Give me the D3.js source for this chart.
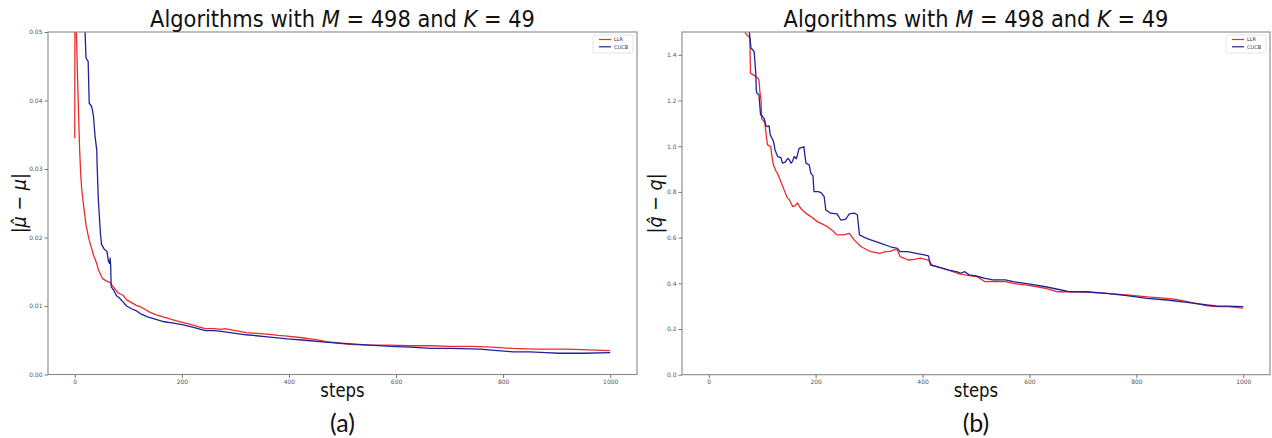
<!DOCTYPE html>
<html>
<head>
<meta charset="utf-8">
<script src="https://cdn.jsdelivr.net/npm/d3@7"></script>
<style>
  html, body { margin: 0; padding: 0; background: #fff; }
  svg { display: block; }
  .tick text { font-family: "DejaVu Sans", sans-serif; fill: #555; }
  .tick line { stroke: #777; }
</style>
</head>
<body>
<svg id="chart" width="1272" height="438"></svg>
<script>
// ---- data -------------------------------------------------------------
// Panel (a): |mu_hat - mu| per step
const muStepsLLR = [0, 1, 2, 3, 6, 9, 11, 13, 16, 21, 25, 29, 32, 35, 41, 44, 50, 52, 58, 66, 72, 81, 90, 97, 106, 115, 122, 129, 140, 152, 165, 182, 197, 213, 230, 244, 260, 274, 280, 300, 320, 340, 359, 380, 397, 420, 451, 470, 490, 512, 550, 588, 625, 665, 700, 742, 780, 818, 860, 918, 960, 1000];
const muLLR = [0.0345, 0.090, 0.066, 0.050, 0.041, 0.033, 0.0294, 0.027, 0.0250, 0.0218, 0.0203, 0.0190, 0.0183, 0.0174, 0.0162, 0.0153, 0.0143, 0.0140, 0.0137, 0.0134, 0.0128, 0.0119, 0.0116, 0.0109, 0.0105, 0.0101, 0.0099, 0.0096, 0.0091, 0.0087, 0.0084, 0.0080, 0.0077, 0.0074, 0.0070, 0.0067, 0.0067, 0.0066, 0.0067, 0.0064, 0.0061, 0.0060, 0.0059, 0.0057, 0.0056, 0.0054, 0.0051, 0.0048, 0.0046, 0.0044, 0.0043, 0.0043, 0.0042, 0.0042, 0.0041, 0.0041, 0.0040, 0.0038, 0.0037, 0.0037, 0.0036, 0.0035];

const muStepsCUCB = [0, 8, 15, 19, 21, 25, 27, 31, 33, 35, 38, 41, 42, 44, 46, 48, 50, 55, 60, 63, 65, 66, 67, 68, 72, 78, 83, 90, 97, 106, 115, 122, 136, 150, 167, 185, 205, 225, 244, 260, 274, 300, 320, 360, 397, 430, 473, 510, 550, 590, 627, 665, 703, 757, 790, 818, 850, 880, 903, 950, 1000];
const muCUCB = [0.12, 0.085, 0.060, 0.0505, 0.0462, 0.0457, 0.0396, 0.0392, 0.0386, 0.0376, 0.0347, 0.0328, 0.0300, 0.0255, 0.0230, 0.0205, 0.0190, 0.0183, 0.0180, 0.0165, 0.0162, 0.0170, 0.0160, 0.0128, 0.0124, 0.0115, 0.0112, 0.0106, 0.0100, 0.0096, 0.0093, 0.0089, 0.0084, 0.0081, 0.0077, 0.0075, 0.0072, 0.0068, 0.0064, 0.0064, 0.0063, 0.0060, 0.0058, 0.0055, 0.0052, 0.0050, 0.0047, 0.0045, 0.0043, 0.0041, 0.0040, 0.0038, 0.0038, 0.0037, 0.0035, 0.0033, 0.0033, 0.0032, 0.0031, 0.0031, 0.0032];

// Panel (b): |q_hat - q| per step
const qStepsLLR = [0, 40, 68, 70, 75, 77, 78, 85, 88, 91, 94, 96, 98, 99, 103, 105, 108, 110, 116, 118, 121, 126, 129, 135, 141, 147, 151, 157, 162, 166, 170, 175, 183, 191, 203, 212, 222, 232, 240, 252, 263, 272, 285, 297, 303, 320, 331, 340, 346, 353, 358, 373, 385, 396, 411, 418, 432, 449, 465, 479, 502, 517, 535, 555, 575, 592, 612, 630, 653, 672, 691, 715, 744, 782, 820, 857, 878, 895, 915, 933, 952, 971, 1000];
const qLLR = [2.2, 1.7, 1.50, 1.49, 1.48, 1.47, 1.32, 1.31, 1.305, 1.30, 1.29, 1.23, 1.20, 1.12, 1.11, 1.10, 1.04, 1.006, 0.998, 0.96, 0.918, 0.890, 0.880, 0.845, 0.809, 0.775, 0.765, 0.736, 0.740, 0.752, 0.735, 0.721, 0.705, 0.692, 0.670, 0.660, 0.648, 0.630, 0.612, 0.612, 0.619, 0.590, 0.560, 0.546, 0.539, 0.531, 0.539, 0.540, 0.546, 0.546, 0.517, 0.502, 0.505, 0.510, 0.502, 0.480, 0.470, 0.458, 0.444, 0.437, 0.429, 0.407, 0.408, 0.407, 0.398, 0.393, 0.386, 0.378, 0.363, 0.363, 0.363, 0.360, 0.356, 0.349, 0.341, 0.334, 0.328, 0.320, 0.310, 0.301, 0.298, 0.298, 0.291];

const qStepsCUCB = [0, 50, 76, 79, 83, 85, 88, 89, 90, 94, 97, 99, 104, 107, 109, 113, 115, 120, 122, 124, 129, 135, 138, 143, 148, 151, 154, 157, 160, 164, 169, 175, 178, 180, 182, 188, 191, 195, 197, 205, 210, 216, 219, 228, 240, 247, 256, 263, 272, 278, 282, 292, 303, 322, 340, 353, 358, 372, 388, 403, 411, 415, 428, 449, 465, 471, 479, 487, 500, 517, 532, 555, 570, 592, 610, 630, 653, 676, 706, 744, 782, 820, 857, 895, 933, 952, 971, 1000];
const qCUCB = [2.5, 1.8, 1.50, 1.43, 1.42, 1.414, 1.32, 1.245, 1.232, 1.225, 1.137, 1.135, 1.12, 1.09, 1.086, 1.089, 1.05, 1.027, 1.013, 0.984, 0.955, 0.950, 0.926, 0.930, 0.947, 0.940, 0.926, 0.935, 0.955, 0.945, 0.991, 0.995, 0.998, 0.960, 0.926, 0.918, 0.882, 0.870, 0.801, 0.801, 0.797, 0.779, 0.721, 0.707, 0.704, 0.677, 0.680, 0.704, 0.707, 0.700, 0.612, 0.600, 0.590, 0.575, 0.560, 0.553, 0.539, 0.539, 0.531, 0.524, 0.520, 0.480, 0.472, 0.458, 0.450, 0.444, 0.451, 0.437, 0.432, 0.422, 0.415, 0.415, 0.407, 0.400, 0.393, 0.385, 0.374, 0.363, 0.363, 0.356, 0.346, 0.334, 0.327, 0.317, 0.305, 0.300, 0.300, 0.298];

const xTicks = [0, 200, 400, 600, 800, 1000];
const muTicks = [0.00, 0.01, 0.02, 0.03, 0.04, 0.05];
const qTicks = [0.0, 0.2, 0.4, 0.6, 0.8, 1.0, 1.2, 1.4];
const seriesNames = ["LLR", "CUCB"];
const seriesColors = ["#ee2a2a", "#20209c"];

// ---- drawing ----------------------------------------------------------
const svg = d3.select("#chart");
svg.append("rect").attr("width", 1272).attr("height", 438).attr("fill", "#fff");

const zip = (xs, ys) => xs.map((s, i) => [s, ys[i]]);

function stretchedText(g, x, y, sy) {
  return g.append("text").attr("transform", `translate(${x},${y}) scale(1,${sy})`);
}

function panel(cfg) {
  const { left, right, top, bottom, yMax, yTicks, yFmt, series, label, yLabel, id } = cfg;
  const x = d3.scaleLinear().domain([-50, 1050]).range([left, right]);
  const y = d3.scaleLinear().domain([0, yMax]).range([bottom, top]);
  const g = svg.append("g");

  g.append("clipPath").attr("id", id)
    .append("rect").attr("x", left).attr("y", top)
    .attr("width", right - left).attr("height", bottom - top);

  const line = d3.line().x(d => x(d[0])).y(d => y(d[1]));
  series.forEach((s, i) => {
    g.append("path")
      .attr("clip-path", `url(#${id})`)
      .attr("d", line(s))
      .attr("fill", "none")
      .attr("stroke", seriesColors[i])
      .attr("stroke-width", 1.3)
      .attr("stroke-linejoin", "round");
  });

  // axes
  const xAxis = g.append("g").attr("transform", `translate(0,${bottom})`)
    .call(d3.axisBottom(x).tickValues(xTicks).tickFormat(d3.format("d")).tickSize(3.5).tickPadding(2));
  const yAxis = g.append("g").attr("transform", `translate(${left},0)`)
    .call(d3.axisLeft(y).tickValues(yTicks).tickFormat(d3.format(yFmt)).tickSize(3.5).tickPadding(2));
  [xAxis, yAxis].forEach(a => {
    a.select(".domain").remove();
    a.selectAll("text").style("font-size", "6px");
  });

  // frame
  g.append("rect").attr("x", left).attr("y", top)
    .attr("width", right - left).attr("height", bottom - top)
    .attr("fill", "none").attr("stroke", "#888").attr("stroke-width", 1.1);

  // legend
  const lx = right - 44, ly = top + 3;
  const leg = g.append("g");
  leg.append("rect").attr("x", lx).attr("y", ly).attr("width", 40).attr("height", 18)
    .attr("rx", 1.5).attr("fill", "#fff").attr("stroke", "#ddd").attr("stroke-width", 0.8);
  seriesNames.forEach((n, i) => {
    const yy = ly + 4.5 + i * 7.3;
    leg.append("line").attr("x1", lx + 6).attr("x2", lx + 18).attr("y1", yy).attr("y2", yy)
      .attr("stroke", seriesColors[i]).attr("stroke-width", 1.2);
    leg.append("text").attr("x", lx + 21).attr("y", yy + 1.8)
      .attr("font-family", "DejaVu Sans").attr("font-size", 5).attr("fill", "#333").text(n);
  });

  const cx = (left + right) / 2;

  // title
  const t = stretchedText(g, cx, 26.7, 1.1)
    .attr("text-anchor", "middle").attr("font-family", "DejaVu Sans")
    .attr("font-size", 21).attr("fill", "#111");
  t.append("tspan").text("Algorithms with ");
  t.append("tspan").attr("font-style", "italic").text("M");
  t.append("tspan").text(" = 498 and ");
  t.append("tspan").attr("font-style", "italic").text("K");
  t.append("tspan").text(" = 49");

  // x label
  stretchedText(g, cx, 396.5, 1.2)
    .attr("text-anchor", "middle").attr("font-family", "DejaVu Sans")
    .attr("font-size", 16.5).attr("fill", "#111").text("steps");

  // y label
  const yl = g.append("text")
    .attr("transform", `translate(${cfg.yLabelX},${(top + bottom) / 2}) rotate(-90) scale(0.88,1)`)
    .attr("text-anchor", "middle").attr("font-family", "DejaVu Sans")
    .attr("font-size", 20).attr("fill", "#111");
  yl.append("tspan").text("|");
  yl.append("tspan").attr("font-style", "italic").text(yLabel + "\u0302");
  yl.append("tspan").text(" \u2212 ");
  yl.append("tspan").attr("font-style", "italic").text(yLabel);
  yl.append("tspan").text("|");

  // sub-figure tag
  g.append("text").attr("x", cx).attr("y", 432)
    .attr("text-anchor", "middle").attr("font-family", "Lato, 'Open Sans', sans-serif")
    .attr("font-size", 25).attr("fill", "#111").text(label);
}

panel({
  id: "clipA", left: 48, right: 637, top: 32, bottom: 374.5,
  yMax: 0.05, yTicks: muTicks, yFmt: ".2f",
  series: [zip(muStepsLLR, muLLR), zip(muStepsCUCB, muCUCB)],
  label: "(a)", yLabel: "\u03bc", yLabelX: 26
});

panel({
  id: "clipB", left: 682, right: 1270, top: 32, bottom: 374.7,
  yMax: 1.5, yTicks: qTicks, yFmt: ".1f",
  series: [zip(qStepsLLR, qLLR), zip(qStepsCUCB, qCUCB)],
  label: "(b)", yLabel: "q", yLabelX: 662
});
</script>
</body>
</html>
